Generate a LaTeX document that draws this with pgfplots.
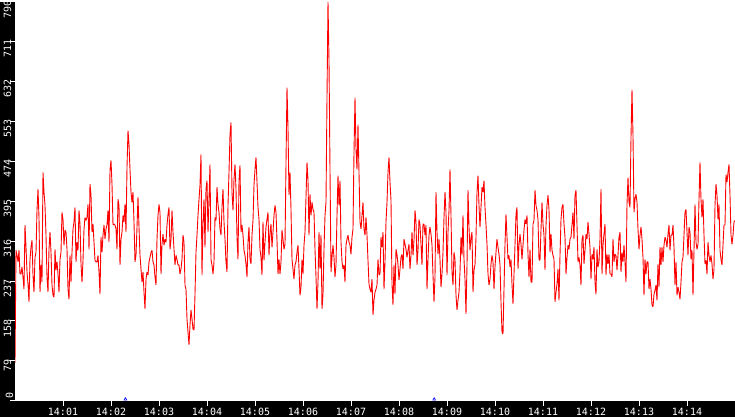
\documentclass[border=0pt]{standalone}
\usepackage{fontspec}
\usepackage{pgfplots}
\usepackage{pgfplotstable}
\pgfplotsset{compat=1.18}
\newfontfamily\tickfont{DejaVu Sans Mono}
% one value per sample, sampled every 1.25 s from 14:00:00 to 14:15:00
\pgfplotstableread[row sep=\\]{v\\
75\\298\\288\\275\\298\\251\\251\\265\\245\\221\\
348\\304\\255\\231\\196\\280\\304\\318\\249\\215\\
284\\294\\377\\419\\363\\215\\269\\235\\452\\413\\
387\\328\\245\\215\\300\\334\\294\\229\\209\\205\\
300\\259\\275\\251\\215\\280\\294\\373\\359\\308\\
338\\334\\300\\221\\201\\288\\235\\294\\340\\354\\
383\\275\\314\\298\\377\\350\\271\\235\\278\\340\\
363\\357\\363\\389\\300\\429\\407\\334\\350\\314\\
278\\275\\275\\288\\255\\211\\324\\294\\328\\348\\
320\\340\\348\\377\\314\\
456\\476\\429\\348\\350\\348\\340\\300\\399\\387\\
269\\320\\334\\367\\354\\389\\334\\462\\535\\508\\
458\\413\\393\\413\\354\\275\\288\\344\\403\\344\\
288\\261\\235\\255\\215\\182\\241\\255\\249\\275\\
284\\294\\298\\275\\269\\245\\229\\320\\367\\389\\
373\\251\\310\\330\\308\\320\\314\\348\\369\\383\\
300\\320\\377\\334\\300\\269\\288\\280\\269\\269\\
251\\261\\280\\328\\314\\229\\221\\162\\136\\111\\
150\\180\\162\\142\\140\\211\\294\\328\\367\\399\\
427\\488\\249\\350\\399\\304\\419\\436\\334\\399\\
468\\280\\269\\251\\275\\363\\357\\423\\389\\373\\
340\\328\\383\\419\\354\\320\\275\\255\\387\\452\\
527\\551\\413\\377\\438\\468\\419\\324\\280\\436\\
466\\334\\348\\328\\298\\288\\271\\245\\314\\344\\
280\\271\\328\\357\\427\\458\\482\\433\\383\\359\\
300\\284\\249\\354\\278\\314\\344\\359\\373\\288\\
334\\350\\304\\334\\367\\387\\373\\318\\251\\280\\
251\\275\\338\\320\\300\\310\\470\\620\\540\\407\\
452\\379\\280\\261\\241\\269\\275\\294\\308\\261\\
209\\225\\280\\251\\308\\334\\403\\472\\436\\328\\
409\\367\\393\\379\\373\\300\\245\\182\\235\\334\\
261\\328\\182\\211\\300\\367\\393\\600\\790\\673\\
458\\255\\284\\308\\284\\245\\269\\367\\446\\387\\
436\\314\\275\\261\\269\\235\\308\\320\\328\\314\\
308\\290\\324\\340\\492\\600\\498\\458\\547\\452\\
354\\340\\367\\393\\340\\328\\363\\328\\278\\231\\
221\\215\\241\\170\\199\\215\\221\\229\\280\\249\\
251\\324\\304\\334\\221\\275\\354\\393\\452\\482\\
433\\397\\231\\190\\269\\211\\300\\290\\269\\239\\
261\\284\\290\\261\\320\\310\\300\\284\\298\\310\\
261\\288\\334\\288\\318\\377\\354\\269\\298\\359\\
348\\310\\269\\350\\350\\328\\348\\221\\280\\328\\
344\\330\\308\\249\\196\\245\\413\\334\\290\\320\\
280\\225\\251\\294\\363\\413\\373\\249\\334\\377\\
458\\367\\255\\229\\294\\280\\209\\180\\199\\215\\
255\\324\\288\\367\\280\\241\\172\\269\\417\\344\\
298\\324\\334\\215\\259\\269\\324\\413\\446\\387\\
344\\383\\423\\413\\436\\383\\348\\310\\251\\229\\
241\\271\\288\\275\\221\\265\\294\\320\\304\\290\\
269\\196\\136\\132\\221\\310\\369\\324\\280\\288\\
265\\280\\231\\192\\251\\308\\369\\383\\261\\308\\
330\\310\\280\\308\\338\\359\\350\\367\\290\\245\\
300\\235\\235\\350\\357\\417\\387\\377\\359\\280\\
278\\338\\393\\350\\328\\259\\348\\387\\407\\379\\
294\\330\\298\\288\\280\\196\\215\\231\\261\\199\\
288\\359\\383\\389\\350\\324\\251\\284\\308\\300\\
320\\324\\348\\373\\320\\407\\417\\348\\275\\284\\
269\\229\\320\\328\\271\\298\\330\\320\\354\\330\\
304\\241\\290\\280\\304\\235\\211\\300\\265\\275\\
320\\419\\251\\308\\330\\350\\249\\290\\271\\290\\
251\\251\\245\\320\\275\\290\\288\\259\\288\\324\\
334\\255\\294\\275\\308\\275\\235\\389\\442\\393\\
383\\521\\616\\525\\373\\399\\409\\393\\340\\300\\
328\\344\\320\\284\\209\\280\\251\\275\\275\\221\\
241\\221\\190\\186\\211\\219\\229\\199\\271\\225\\
304\\269\\304\\275\\308\\324\\318\\304\\330\\348\\
298\\328\\328\\348\\304\\229\\275\\209\\225\\215\\
201\\235\\275\\284\\328\\373\\379\\334\\288\\344\\
334\\280\\298\\209\\298\\389\\314\\300\\310\\399\\
472\\399\\363\\399\\328\\271\\278\\251\\314\\288\\
275\\288\\271\\241\\261\\387\\429\\407\\359\\389\\
298\\280\\269\\308\\348\\348\\448\\433\\452\\468\\
407\\328\\310\\328\\354\\357\\
}\mydata
\begin{document}
\begin{tikzpicture}
\fill[black] (-15pt,-16pt) rectangle (720pt,0pt);
\fill[black] (-15pt,-16pt) rectangle (0pt,399pt);
\fill[white] (0pt,0pt) rectangle (720pt,399pt);
\begin{axis}[
  at={(0pt,0pt)}, anchor=south west,
  scale only axis, width=720pt, height=399pt,
  xmin=0, xmax=900, ymin=0, ymax=790,
  axis lines*=left, axis line style={draw=none},
  xtick={60,120,180,240,300,360,420,480,540,600,660,720,780,840},
  xticklabels={14:01,14:02,14:03,14:04,14:05,14:06,14:07,14:08,14:09,14:10,14:11,14:12,14:13,14:14},
  ytick={79,158,237,316,395,474,553,632,711,790},
  yticklabels={79,158,237,316,395,474,553,632,711,790},
  extra y ticks={0}, extra y tick labels={0},
  extra y tick style={yticklabel style={anchor=west, yshift=-2pt}},
  tick align=outside, major tick length=5pt,
  tick style={white, line width=1pt},
  xticklabel style={font=\tickfont\fontsize{10}{11}\selectfont, text=white, anchor=north, inner sep=0pt, yshift=-2pt},
  yticklabel style={font=\tickfont\fontsize{10}{11}\selectfont, text=white, xshift=-2.5pt, yshift=2pt, rotate=90, anchor=east, inner sep=0pt},
]
\addplot[red, line width=0.9pt, line join=bevel, mark=none] table[x expr=\coordindex*1.25, y=v] {\mydata};
\addplot[blue, only marks, mark=triangle, mark size=1.6pt, mark options={line width=0.6pt}] coordinates {(138,3) (524,3)};
\end{axis}
\end{tikzpicture}
\end{document}
